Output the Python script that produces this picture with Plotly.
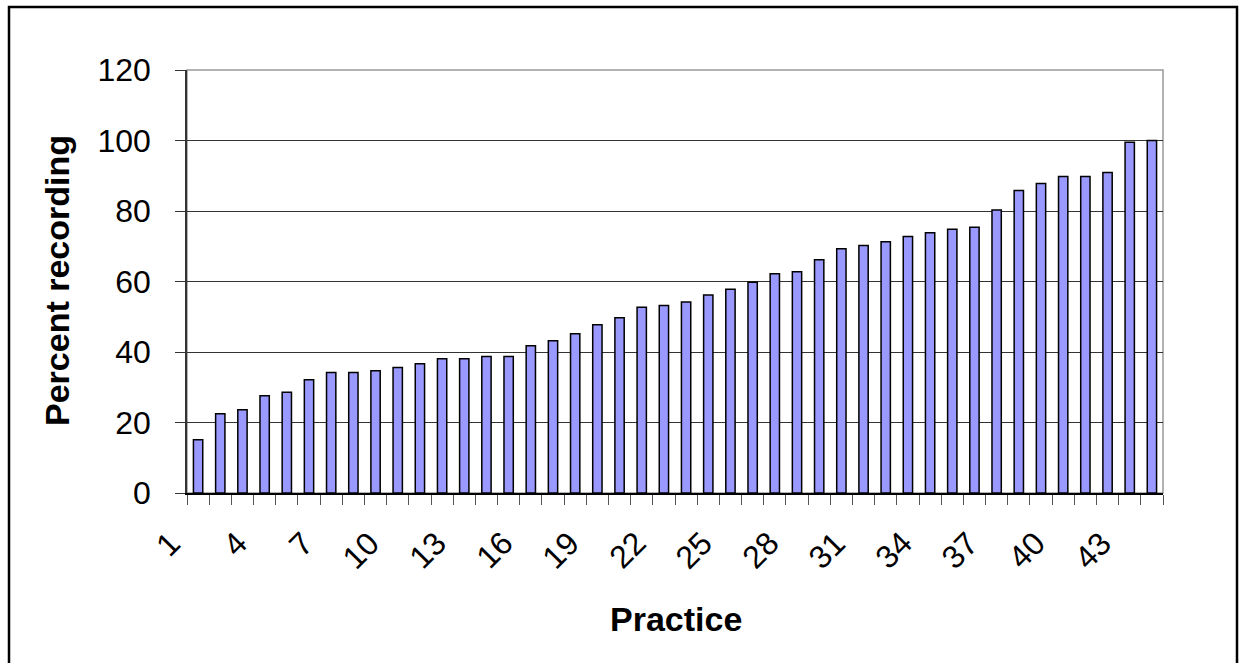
import numpy as np
import plotly.graph_objects as go

# Percent recording for each of the 44 practices (sorted ascending)
practices = list(range(1, 45))
percent_recording = [
    15.1, 22.5, 23.6, 27.6, 28.6, 32.1, 34.2, 34.2, 34.7, 35.6,
    36.7, 38.1, 38.1, 38.7, 38.7, 41.8, 43.2, 45.2, 47.7, 49.7,
    52.7, 53.2, 54.2, 56.2, 57.8, 59.8, 62.2, 62.8, 66.2, 69.3,
    70.2, 71.3, 72.8, 73.8, 74.8, 75.4, 80.3, 85.8, 87.8, 89.8,
    89.8, 90.9, 99.5, 100.0,
]
x_tick_vals = list(range(1, 45, 3))
x_tick_text = [str(v) for v in x_tick_vals]
y_tick_vals = [0, 20, 40, 60, 80, 100, 120]

W, H = 1245, 663
ML, MR, MT, MB = 187, 82, 70, 170
PW, PH = W - ML - MR, H - MT - MB


def px_x(p):
    return (p - ML) / PW


def px_y(p):
    return (H - MB - p) / PH


FONT = "Liberation Sans, Arial, sans-serif"
N = len(practices)

fig = go.Figure(
    go.Bar(
        x=practices,
        y=percent_recording,
        marker=dict(color="#9999FF", line=dict(color="#000000", width=1.5)),
        hoverinfo="x+y",
    )
)

# boundaries between categories for the small x ticks
boundaries = list(np.arange(0.5, N + 1, 1.0))

# rotated practice numbers, hung just below-left of their category
tick_label_annotations = [
    dict(text=t, x=v, y=0, xref="x", yref="y", textangle=-45,
         showarrow=False, xanchor="right", yanchor="top",
         xshift=-8, yshift=-29,
         font=dict(size=32, family=FONT, color="#000000"))
    for v, t in zip(x_tick_vals, x_tick_text)
]

fig.update_layout(
    width=W,
    height=H,
    margin=dict(l=ML, r=MR, t=MT, b=MB),
    paper_bgcolor="white",
    plot_bgcolor="white",
    bargap=0.58,
    showlegend=False,
    font=dict(family=FONT, color="#000000"),
    xaxis=dict(
        range=[0.5, N + 0.5],
        tickmode="array",
        tickvals=boundaries,
        ticks="outside",
        ticklen=10,
        tickwidth=1,
        tickcolor="#555555",
        showticklabels=False,
        showgrid=False,
        zeroline=False,
        showline=True,
        linecolor="#000000",
        linewidth=1.5,
    ),
    yaxis=dict(
        range=[0, 120],
        tickmode="array",
        tickvals=y_tick_vals,
        ticks="outside",
        ticklen=10,
        tickwidth=1,
        tickcolor="#333333",
        ticklabelstandoff=18,
        tickfont=dict(size=32, family=FONT, color="#000000"),
        showgrid=True,
        gridcolor="#333333",
        gridwidth=1,
        zeroline=False,
        showline=True,
        linecolor="#333333",
        linewidth=1.5,
    ),
    shapes=[
        # plot area outline (top and right edges show in grey)
        dict(type="rect", xref="paper", yref="paper", x0=0, x1=1, y0=0, y1=1,
             line=dict(color="#999999", width=1.5), layer="below"),
        # outer chart frame (its bottom edge runs off the canvas)
        dict(type="rect", xref="paper", yref="paper",
             x0=px_x(9), x1=px_x(1237), y0=px_y(670), y1=px_y(7),
             line=dict(color="#000000", width=2.5)),
    ],
    annotations=tick_label_annotations + [
        dict(text="<b>Percent recording</b>", xref="paper", yref="paper",
             x=px_x(57), y=px_y(281), textangle=-90, showarrow=False,
             font=dict(size=34, family=FONT, color="#000000"),
             xanchor="center", yanchor="middle"),
        dict(text="<b>Practice</b>", xref="paper", yref="paper",
             x=px_x(676), y=px_y(619), showarrow=False,
             font=dict(size=34, family=FONT, color="#000000"),
             xanchor="center", yanchor="middle"),
    ],
)

fig.write_html("out.html")
